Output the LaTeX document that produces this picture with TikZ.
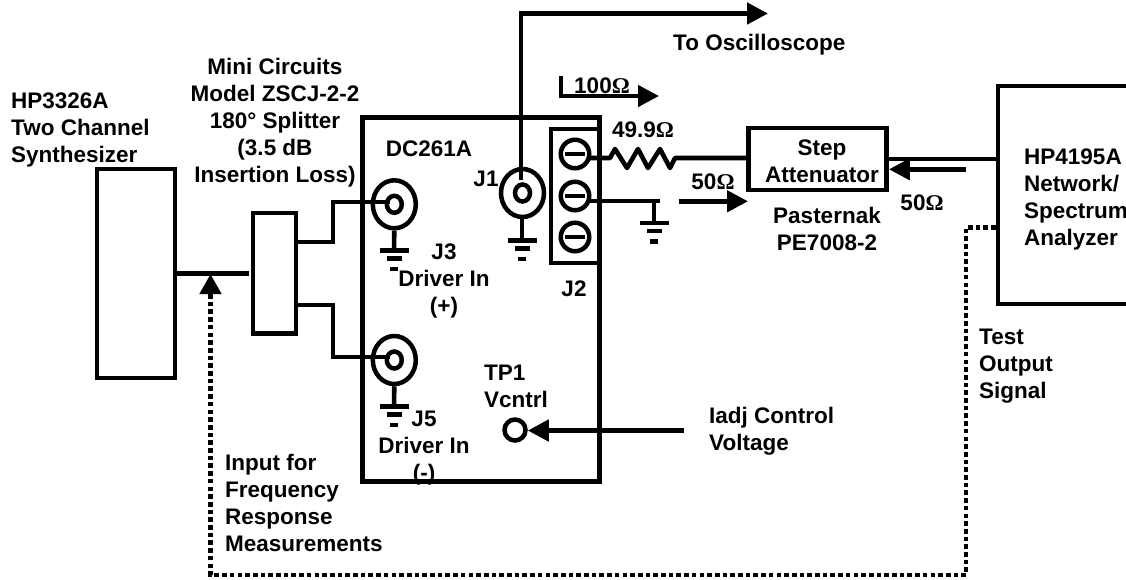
\documentclass[tikz,border=0pt]{standalone}
\usepackage{fontspec}
\setmainfont{Liberation Sans}
\newfontfamily\omfont{Liberation Serif}
\newcommand{\Omg}{{\omfont Ω}}
\usetikzlibrary{arrows.meta,shapes.geometric,calc}
\tikzset{
  wire/.style={line width=4.6pt,line cap=butt,line join=miter},
  arr/.style={wire,-{Triangle[length=21pt,width=21pt]}},
  dots/.style={line width=4.7pt,dash pattern=on 4.6pt off 3.1pt},
  box/.style={draw,line width=4.5pt,rectangle,fill=none,inner sep=0pt},
  coax/.style={draw,line width=4.5pt,ellipse,inner sep=0pt,minimum width=43pt,minimum height=48pt},
  coaxin/.style={draw,line width=4.5pt,ellipse,inner sep=0pt,minimum width=15pt,minimum height=17pt},
  screw/.style={draw,line width=4.5pt,circle,inner sep=0pt,minimum size=28.5pt},
  lab/.style={font=\fontsize{22.5}{27}\selectfont\bfseries,align=center,inner sep=0pt},
  labl/.style={lab,align=left,anchor=west},
  gnd/.pic={
    \draw[line width=4.5pt] (-14.5,0) -- (14.5,0);
    \draw[line width=4.5pt] (-7.5,8) -- (7.5,8);
    \draw[line width=4.5pt] (-4,18.5) -- (4,18.5);
  }
}
\begin{document}
\begin{tikzpicture}[x=1pt,y=-1pt]
\useasboundingbox (0,0) rectangle (1126,579);
% boxes
\node[box,minimum width=78pt,minimum height=209pt] (synth) at (135.8,273.5) {};
\node[box,minimum width=43pt,minimum height=120.7pt] (split) at (274.5,273.3) {};
\node[box,minimum width=237pt,minimum height=364pt] (board) at (481,299.7) {};
\node[box,minimum width=48.5pt,minimum height=134pt] (jtwo) at (575,196) {};
\node[box,minimum width=138.4pt,minimum height=61.7pt] (att) at (817.5,159) {};
\node[box,minimum width=145pt,minimum height=218pt,anchor=west] (hp) at (995.7,195) {};
% connectors
\node[coax] (jthree) at (394.3,204.3) {};
\node[coaxin] (jthreei) at (394.3,204.3) {};
\node[coax] (jfive) at (394.3,360) {};
\node[coaxin] (jfivei) at (394.3,360) {};
\node[coax] (jone) at (522.5,193) {};
\node[coaxin] (jonei) at (522.5,193) {};
\node[screw] (sa) at (575,154) {};
\node[screw] (sb) at (575,196) {};
\node[screw] (sc) at (575,237) {};
\foreach \s in {sa,sb,sc} \draw[wire] ($(\s)+(-10,0)$) -- ($(\s)+(10,0)$);
\node[draw,line width=4.5pt,circle,inner sep=0pt,minimum size=21pt] (tp) at (515,430) {};
% ground points
\coordinate (gthree) at (394,250.7);
\coordinate (gfive) at (394,406.5);
\coordinate (gone) at (522,240.7);
\coordinate (gtwo) at (654,223);
\pic at (gthree) {gnd};
\pic at (gfive) {gnd};
\pic at (gone) {gnd};
\pic at (gtwo) {gnd};
\draw[wire] (jthree.south) -- (gthree);
\draw[wire] (jfive.south) -- (gfive);
\draw[wire] (jone.south -| gone) -- (gone);
\draw[wire] (654,201) -- (gtwo);
% wiring
\draw[wire] (synth.east |- 0,273.5) -- (249,273.5);
\draw[wire] (split.east |- 0,242) -- (333,242) -- (333,202) -- (390,202);
\draw[wire] (split.east |- 0,305) -- (333,305) -- (333,357) -- (390,357);
\coordinate (oscend) at (768,13.5);
\draw[arr] (521,180) -- (521,13.5) -- (oscend);
\coordinate (hundstart) at (561,76);
\coordinate (hundend) at (659,96);
\draw[arr] (hundstart) -- (561,96) -- (hundend);
\draw[wire,line join=round] (590,158) -- (610,158) -- (615,149) -- (627,168) -- (638,149) -- (648,168) -- (660,149) -- (670,168) -- (675,158) -- (att.west |- 0,158);
\draw[wire] (590,201) -- (660,201);
\coordinate (fiftystart) at (679,201.3);
\coordinate (fiftyend) at (748,201.3);
\draw[arr] (fiftystart) -- (fiftyend);
\draw[wire] (att.east |- 0,159) -- (hp.west |- 0,159);
\coordinate (backstart) at (966,169.3);
\draw[arr] (backstart) -- (att.east |- 0,169.3);
\coordinate (iadj) at (684,430.5);
\draw[arr] (iadj) -- (tp.east |- iadj);
% dotted
\coordinate (tipend) at (210.5,274);
\draw[dots] (hp.west |- 0,227.5) -- (966,227.5) -- (966,575) -- (210.5,575) -- (210.5,294);
\draw[wire,-{Triangle[length=20pt,width=21pt]}] (210.5,294.5) -- (tipend);
% labels
\node[labl] (t1) at (11,130) {HP3326A\\Two Channel\\Synthesizer};
\node[lab] (t2) at (275,123) {Mini Circuits\\Model ZSCJ-2-2\\180° Splitter\\(3.5 dB\\Insertion Loss)};
\node[lab] (t3) at (429,149) {DC261A};
\node[lab] (t4) at (486,179) {J1};
\node[lab] (t5) at (444,281) {J3\\Driver In\\(+)};
\node[lab] (t6) at (424,448.5) {J5\\Driver In\\(-)};
\node[lab] (t7) at (574,289) {J2};
\node[labl] (t8) at (484,386.5) {TP1\\Vcntrl};
\node[labl] (t9) at (709,431.5) {Iadj Control\\Voltage};
\node[lab] (t10) at (643,130) {49.9\Omg};
\node[lab] (t11) at (713,182) {50\Omg};
\node[lab] (t12) at (602,86) {100\Omg};
\node[labl] (t13) at (673,45) {To Oscilloscope};
\node[lab] (t14) at (822,161.5) {Step\\Attenuator};
\node[lab] (t15) at (827,229) {Pasternak\\PE7008-2};
\node[lab] (t16) at (922,203) {50\Omg};
\node[labl] (t17) at (1024,199) {HP4195A\\Network/\\Spectrum\\Analyzer};
\node[labl] (t18) at (979,366) {Test\\Output\\Signal};
\node[labl] (t19) at (225,503) {Input for\\Frequency\\Response\\Measurements};
\end{tikzpicture}
\end{document}
